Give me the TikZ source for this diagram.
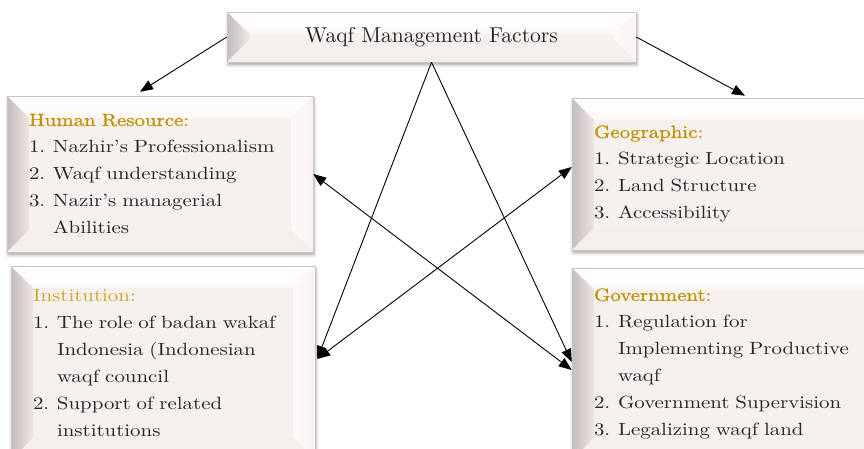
\documentclass[tikz,border=0pt]{standalone}
\usepackage{fontspec}
\setmainfont{lmroman10-regular.otf}[FakeStretch=1.18]
\newfontfamily\titlefont{lmroman10-regular.otf}[FakeStretch=1.18,FakeBold=0.7]
\newfontfamily\headfont{lmroman10-regular.otf}
\usetikzlibrary{calc,arrows.meta,shadows.blur}
\hyphenpenalty=10000

\definecolor{boxface}{RGB}{246,240,238}
\definecolor{boxedge}{RGB}{200,196,196}
\definecolor{bevdark}{RGB}{196,189,189}
\definecolor{bevmid}{RGB}{236,229,227}
\definecolor{bevlight}{RGB}{252,248,247}
\definecolor{textgrey}{RGB}{38,36,36}
\definecolor{titlegold}{RGB}{191,144,0}
\definecolor{titlegoldlight}{RGB}{206,164,44}

\newcommand{\bevelsz}{22pt}
\newcommand{\brk}{\hfil\break}
\newcommand{\numitem}[2]{\par\hangindent=24pt\hangafter=1\makebox[24pt][l]{#1}#2\par}

\tikzset{
  bevelbox/.style={draw=boxedge, line width=0.5pt, fill=boxface,
    blur shadow={shadow xshift=1pt, shadow yshift=-3pt, shadow blur radius=3pt, shadow opacity=35},
    text=textgrey, inner xsep=\bevelsz, inner ysep=0pt,
    path picture={
      \coordinate (bnw) at (path picture bounding box.north west);
      \coordinate (bne) at (path picture bounding box.north east);
      \coordinate (bsw) at (path picture bounding box.south west);
      \coordinate (bse) at (path picture bounding box.south east);
      % top, left, right and bottom faces of the bevel
      \shade[top color=white, bottom color=bevlight] (bnw) -- (bne) -- ($(bne)+(-\bevelsz,-\bevelsz)$) -- ($(bnw)+(\bevelsz,-\bevelsz)$) -- cycle;
      \shade[left color=bevdark, right color=bevmid] (bnw) -- ($(bnw)+(\bevelsz,-\bevelsz)$) -- ($(bsw)+(\bevelsz,\bevelsz)$) -- (bsw) -- cycle;
      \shade[left color=bevlight, right color=boxface!60!bevlight] (bne) -- (bse) -- ($(bse)+(-\bevelsz,\bevelsz)$) -- ($(bne)+(-\bevelsz,-\bevelsz)$) -- cycle;
      \fill[boxface!80!bevmid] (bsw) -- (bse) -- ($(bse)+(-\bevelsz,\bevelsz)$) -- ($(bsw)+(\bevelsz,\bevelsz)$) -- cycle;
    }},
  factorbox/.style={bevelbox, align=left, font=\fontsize{17.7}{27}\selectfont},
  headbox/.style={bevelbox, font=\headfont\fontsize{21.5}{24}\selectfont},
  link/.style={line width=0.9pt, -{Triangle[length=13pt,width=10pt]}},
  twolink/.style={line width=0.9pt, {Triangle[length=13pt,width=10pt]}-{Triangle[length=13pt,width=10pt]}},
}

\begin{document}
\begin{tikzpicture}[x=1pt,y=1pt]
\useasboundingbox (0,0) rectangle (864,448);

\node[headbox, minimum width=409pt, minimum height=50pt] (factors) at (431.5,411) {Waqf Management Factors};

\node[factorbox, text width=262pt, minimum height=156pt] (human) at (160,274) {%
  {\titlefont\color{titlegold}Human Resource:}
  \numitem{1.}{Nazhir's Professionalism}
  \numitem{2.}{Waqf understanding}
  \numitem{3.}{Nazir's managerial\brk Abilities}};

\node[factorbox, text width=270pt, minimum height=152pt] (geo) at (729,274) {%
  {\titlefont\color{titlegold}Geographic:}
  \numitem{1.}{Strategic Location}
  \numitem{2.}{Land Structure}
  \numitem{3.}{Accessibility}};

\node[factorbox, text width=260pt, minimum height=194pt] (inst) at (163,85) {%
  {\color{titlegoldlight}Institution:}
  \numitem{1.}{The role of badan wakaf\brk Indonesia (Indonesian\brk waqf council}
  \numitem{2.}{Support of related\brk institutions}};

\node[factorbox, text width=270pt, minimum height=192pt] (gov) at (729,84) {%
  {\titlefont\color{titlegold}Government:}
  \numitem{1.}{Regulation for\brk Implementing Productive\brk waqf}
  \numitem{2.}{Government Supervision}
  \numitem{3.}{Legalizing waqf land}};

% links from the heading
\draw[link] (factors.west) -- ([xshift=-20pt,yshift=4pt]human.north);
\draw[link] (factors.east) -- ([xshift=16pt,yshift=2pt]geo.north);
\draw[link] (factors.south) -- ([xshift=2pt,yshift=4pt]inst.east);
\draw[link] (factors.south) -- ([yshift=2pt]gov.west);
% crossing links
\draw[twolink] (human.east) -- ([yshift=-6pt]gov.west);
\draw[twolink] ([xshift=2pt,yshift=4pt]inst.east) -- ([yshift=7pt]geo.west);
\end{tikzpicture}
\end{document}
